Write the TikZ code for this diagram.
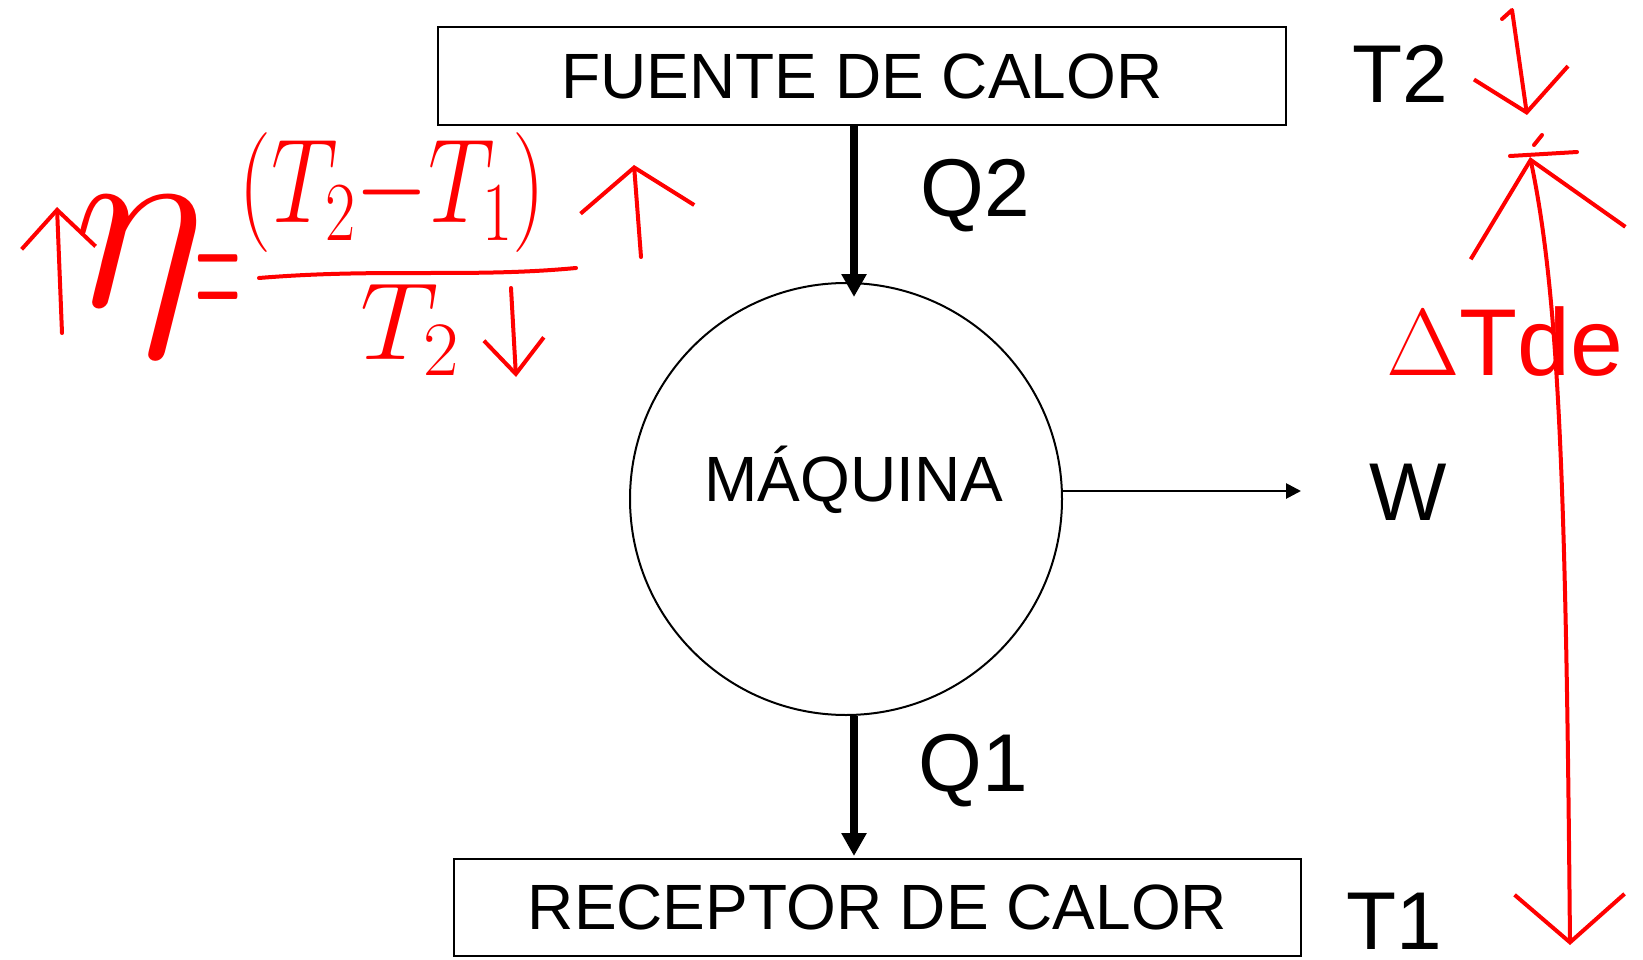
\RequirePackage{fix-cm}
\documentclass[tikz,border=0pt]{standalone}
\usepackage{amsmath}
\usepackage[no-math]{fontspec}
\setmainfont{Liberation Sans}
\usepackage{tikz}
\usetikzlibrary{arrows.meta,positioning}

\begin{document}
\begin{tikzpicture}[x=1pt,y=-1pt,
        box/.style={draw,line width=2pt,inner sep=0pt,font=\fontsize{64}{64}\selectfont},
        motor/.style={draw,circle,line width=2pt,minimum size=432pt,inner sep=0pt},
        lbl/.style={anchor=base,inner sep=0pt,font=\fontsize{82}{82}\selectfont},
        heat/.style={line width=8pt,-{Triangle[length=23pt,width=24pt]}},
        work/.style={line width=2.7pt,-{Triangle[length=15pt,width=15pt]}},
        ink/.style={red,line width=4pt,line cap=round,line join=round},
        hand/.style={red,inner sep=0pt}]

  \useasboundingbox (0,0) rectangle (1643,960);

  \node[box,minimum width=848pt,minimum height=98pt] (fuente) at (862,76) {FUENTE DE CALOR};
  \node[box,minimum width=847pt,minimum height=97pt] (receptor) at (877.5,907.5) {RECEPTOR DE CALOR};
  \node[motor] (maquina) at (846,499) {};
  \node[anchor=base,inner sep=0pt,font=\fontsize{64}{64}\selectfont] (maqtxt) at (854,501) {MÁQUINA};

  \node[lbl] (t2) at (1400,103) {T2};
  \node[lbl] (q2) at (975,217) {Q2};
  \node[lbl] (w)  at (1408,520) {W};
  \node[lbl] (q1) at (973,791) {Q1};
  \node[lbl] (t1) at (1394,949) {T1};

  \coordinate (axis) at (854,0);
  \coordinate (q2tip) at ([yshift=-15pt]maquina.north);
  \coordinate (q1tip) at ([yshift=2pt]receptor.north);
  \coordinate (wtip) at (1301,491);

  \path (fuente.south -| axis) edge[heat] (q2tip -| axis)
        (maquina.south -| axis) edge[heat] (q1tip -| axis)
        (maquina.east |- wtip)  edge[work] (wtip);

  \node[hand,font=\fontsize{255}{255}\selectfont] (eta) at (140,276) {$\eta$};
  \node[hand,font=\fontsize{210}{210}\selectfont] (eq) at (218,292) {\scalebox{0.3}[1]{$=$}};
  \node[hand,font=\fontsize{120}{120}\selectfont] (numer) at (392,193) {\scalebox{0.78}[1]{$(T_2{-}T_1)$}};
  \node[hand,font=\fontsize{110}{110}\selectfont] (denom) at (410,330) {$T_2$};
  \node[hand,anchor=base,font=\fontsize{95}{95}\selectfont] (dtde) at (1505,375) {$\Delta$Tde};

  \draw[ink] (259,278) .. controls (380,268) and (470,278) .. (576,268);
  \draw[ink,-{Straight Barb[length=38pt,width=74pt]}] (62,333) -- (57,207);
  \draw[ink,-{Straight Barb[length=42pt,width=114pt]}] (641,257) -- (634,165);
  \draw[ink,-{Straight Barb[length=35pt,width=60pt]}] (511,288) -- (516,377);

  \coordinate (dtop) at (1530,157);
  \coordinate (dbot) at (1570,945);
  \draw[ink,{Straight Barb[length=85pt,width=158pt]}-{Straight Barb[length=48pt,width=110pt]}]
        (dtop) .. controls (1560,300) and (1566,500) .. (dbot);
  \draw[ink] (1510,156) -- (1577,152);
  \draw[ink,-{Straight Barb[length=40pt,width=95pt]}] (1502,19) -- (1512,10) -- (1527,115);
  \draw[ink] (1542,135) -- (1534,145);

\end{tikzpicture}
\end{document}
